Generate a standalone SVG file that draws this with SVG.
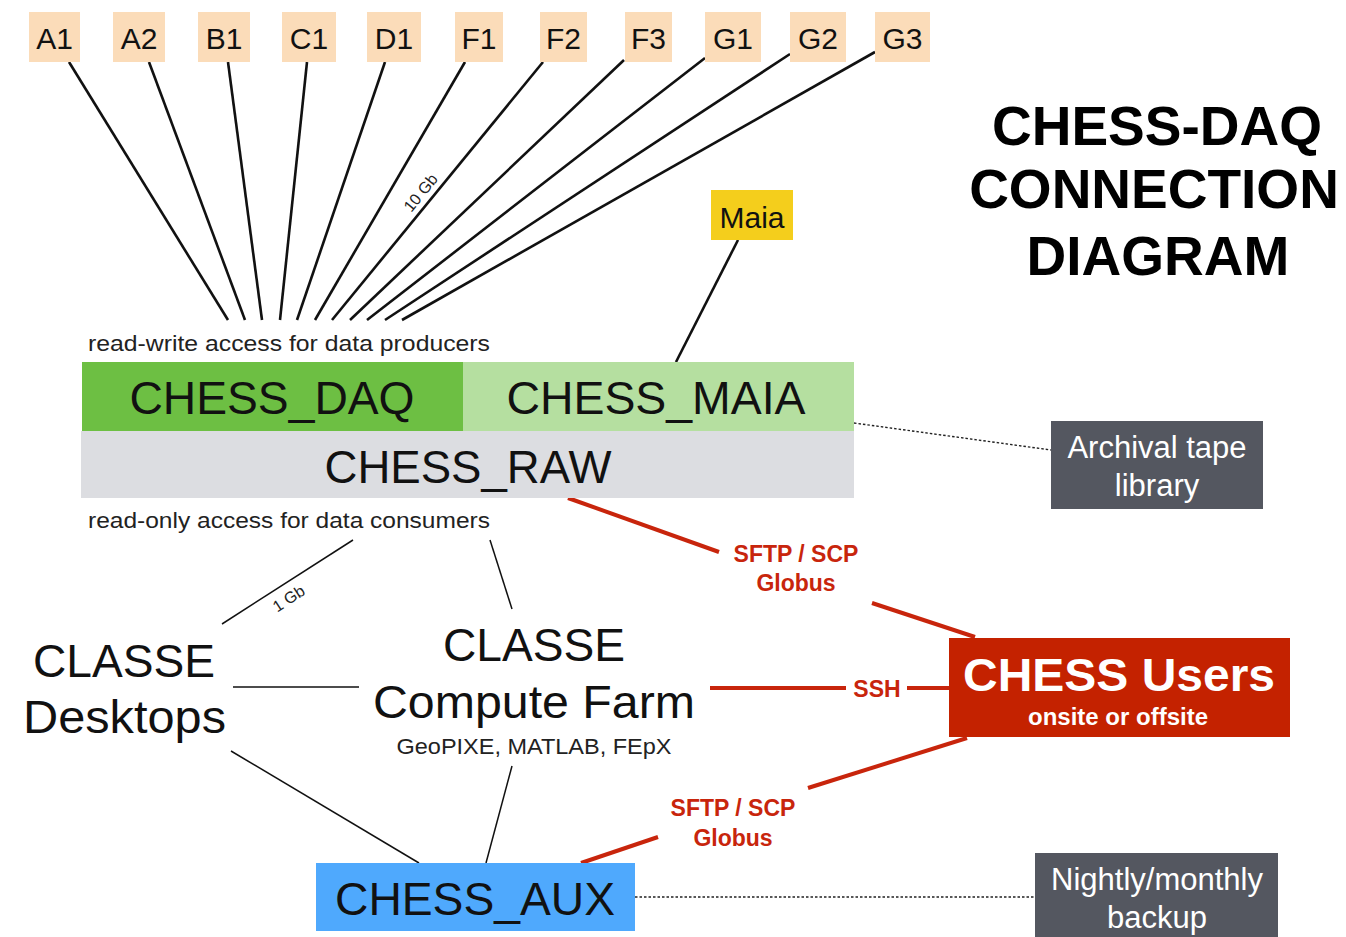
<svg xmlns="http://www.w3.org/2000/svg" width="1346" height="937" viewBox="0 0 1346 937">
<style>
text{font-family:"Liberation Sans",Arial,Helvetica,sans-serif;}
.src rect{fill:#fbdcb9;}
.src text{font-size:30px;fill:#111;text-anchor:middle;}
.big{font-size:47px;fill:#111;text-anchor:middle;}
.note{font-size:22px;fill:#222;}
.wl{stroke:#111;stroke-width:2.6;fill:none;}
.tl{stroke:#111;stroke-width:1.5;fill:none;}
.rl{stroke:#c8250c;stroke-width:4;fill:none;}
.dl{stroke:#222;stroke-width:1.4;stroke-dasharray:2.5,2;fill:none;}
.rt{font-size:23px;font-weight:bold;fill:#c8250c;text-anchor:middle;}
.gt{font-size:31px;fill:#fff;text-anchor:middle;}
.small{font-size:16px;fill:#222;text-anchor:middle;}
.ttl{font-size:55px;font-weight:bold;text-anchor:middle;fill:#000;}
</style>
<rect width="1346" height="937" fill="#fff"/>

<g id="connectors">
  <line class="wl" x1="69" y1="62" x2="228" y2="320"/>
  <line class="wl" x1="149" y1="62" x2="245" y2="320"/>
  <line class="wl" x1="228" y1="62" x2="262" y2="320"/>
  <line class="wl" x1="307" y1="62" x2="280" y2="320"/>
  <line class="wl" x1="385" y1="62" x2="297" y2="320"/>
  <line class="wl" x1="465" y1="62" x2="315" y2="320"/>
  <line class="wl" x1="543" y1="62" x2="332" y2="320"/>
  <line class="wl" x1="624" y1="60" x2="350" y2="320"/>
  <line class="wl" x1="705" y1="58" x2="367" y2="320"/>
  <line class="wl" x1="790" y1="54" x2="385" y2="320"/>
  <line class="wl" x1="875" y1="52" x2="402" y2="320"/>
  <text class="small" transform="translate(421,193) rotate(-51)" dy="5">10 Gb</text>
  <line class="wl" x1="738" y1="240" x2="676" y2="362"/>
  <line class="dl" x1="854" y1="423" x2="1051" y2="450"/>
  <line class="dl" x1="635" y1="897" x2="1035" y2="897"/>
  <line class="tl" x1="353" y1="540" x2="222" y2="624"/>
  <text class="small" transform="translate(289,599) rotate(-33)" dy="5">1 Gb</text>
  <line class="tl" x1="490" y1="540" x2="512" y2="609"/>
  <line class="tl" x1="233" y1="687" x2="359" y2="687"/>
  <line class="tl" x1="231" y1="751" x2="419" y2="863"/>
  <line class="tl" x1="512" y1="766" x2="486" y2="863"/>
  <line class="rl" x1="568" y1="498" x2="719" y2="552"/>
  <line class="rl" x1="872" y1="603" x2="975" y2="637"/>
  <text class="rt" x="796" y="562">SFTP / SCP</text>
  <text class="rt" x="796" y="591">Globus</text>
  <line class="rl" x1="710" y1="688" x2="846" y2="688"/>
  <line class="rl" x1="907" y1="688" x2="950" y2="688"/>
  <text class="rt" x="877" y="697">SSH</text>
  <line class="rl" x1="967" y1="738" x2="808" y2="788"/>
  <line class="rl" x1="658" y1="837" x2="581" y2="863"/>
  <text class="rt" x="733" y="816">SFTP / SCP</text>
  <text class="rt" x="733" y="846">Globus</text>
</g>

<g id="A1" class="src"><rect x="29" y="12" width="51" height="50"/><text x="54.5" y="49">A1</text></g>
<g id="A2" class="src"><rect x="113" y="12" width="52" height="50"/><text x="139" y="49">A2</text></g>
<g id="B1" class="src"><rect x="198" y="12" width="52" height="50"/><text x="224" y="49">B1</text></g>
<g id="C1" class="src"><rect x="282" y="12" width="54" height="50"/><text x="309" y="49">C1</text></g>
<g id="D1" class="src"><rect x="367" y="12" width="54" height="50"/><text x="394" y="49">D1</text></g>
<g id="F1" class="src"><rect x="455" y="12" width="48" height="50"/><text x="479" y="49">F1</text></g>
<g id="F2" class="src"><rect x="540" y="12" width="47" height="50"/><text x="563.5" y="49">F2</text></g>
<g id="F3" class="src"><rect x="625" y="12" width="47" height="50"/><text x="648.5" y="49">F3</text></g>
<g id="G1" class="src"><rect x="705" y="12" width="56" height="50"/><text x="733" y="49">G1</text></g>
<g id="G2" class="src"><rect x="790" y="12" width="56" height="50"/><text x="818" y="49">G2</text></g>
<g id="G3" class="src"><rect x="875" y="12" width="55" height="50"/><text x="902.5" y="49">G3</text></g>

<g id="title">
  <text class="ttl" x="1157" y="145">CHESS-DAQ</text>
  <text class="ttl" x="1154" y="208" font-size="54">CONNECTION</text>
  <text class="ttl" x="1158" y="275">DIAGRAM</text>
</g>

<g id="Maia"><rect x="711" y="190" width="82" height="50" fill="#f4ce1c"/><text x="752" y="228" font-size="30" text-anchor="middle" fill="#111">Maia</text></g>

<g id="storage">
  <text class="note" x="88" y="351" textLength="402" lengthAdjust="spacingAndGlyphs">read-write access for data producers</text>
  <g id="CHESS_DAQ"><rect x="82" y="362" width="381" height="69" fill="#6dbf43"/><text class="big" x="272" y="414" textLength="285" lengthAdjust="spacingAndGlyphs">CHESS_DAQ</text></g>
  <g id="CHESS_MAIA"><rect x="463" y="362" width="391" height="69" fill="#b5dfa0"/><text class="big" x="656" y="414" textLength="299" lengthAdjust="spacingAndGlyphs">CHESS_MAIA</text></g>
  <g id="CHESS_RAW"><rect x="81" y="431" width="773" height="67" fill="#dcdde1"/><text class="big" x="468" y="483" textLength="287" lengthAdjust="spacingAndGlyphs">CHESS_RAW</text></g>
  <text class="note" x="88" y="528" textLength="402" lengthAdjust="spacingAndGlyphs">read-only access for data consumers</text>
</g>

<g id="Archival"><rect x="1051" y="421" width="212" height="88" fill="#545760"/><text class="gt" x="1157" y="458">Archival tape</text><text class="gt" x="1157" y="496">library</text></g>

<g id="CLASSE_Desktops">
  <text class="big" x="124" y="677" textLength="182" lengthAdjust="spacingAndGlyphs">CLASSE</text>
  <text class="big" x="124.5" y="733" textLength="203" lengthAdjust="spacingAndGlyphs">Desktops</text>
</g>

<g id="CLASSE_Compute_Farm">
  <text class="big" x="534" y="661" textLength="182" lengthAdjust="spacingAndGlyphs">CLASSE</text>
  <text class="big" x="534" y="718" textLength="322" lengthAdjust="spacingAndGlyphs">Compute Farm</text>
  <text x="534" y="754" font-size="22" text-anchor="middle" fill="#222" textLength="275" lengthAdjust="spacingAndGlyphs">GeoPIXE, MATLAB, FEpX</text>
</g>

<g id="CHESS_Users">
  <rect x="949" y="638" width="341" height="99" fill="#c42200"/>
  <text x="1119" y="691" font-size="47" font-weight="bold" text-anchor="middle" fill="#fff" textLength="312" lengthAdjust="spacingAndGlyphs">CHESS Users</text>
  <text x="1118" y="725" font-size="23" font-weight="bold" text-anchor="middle" fill="#fff" textLength="180" lengthAdjust="spacingAndGlyphs">onsite or offsite</text>
</g>

<g id="CHESS_AUX"><rect x="316" y="863" width="319" height="68" fill="#4fa9fd"/><text class="big" x="475" y="915" textLength="280" lengthAdjust="spacingAndGlyphs">CHESS_AUX</text></g>

<g id="Nightly"><rect x="1035" y="853" width="243" height="90" fill="#545760"/><text class="gt" x="1157" y="890">Nightly/monthly</text><text class="gt" x="1157" y="928">backup</text></g>
</svg>
